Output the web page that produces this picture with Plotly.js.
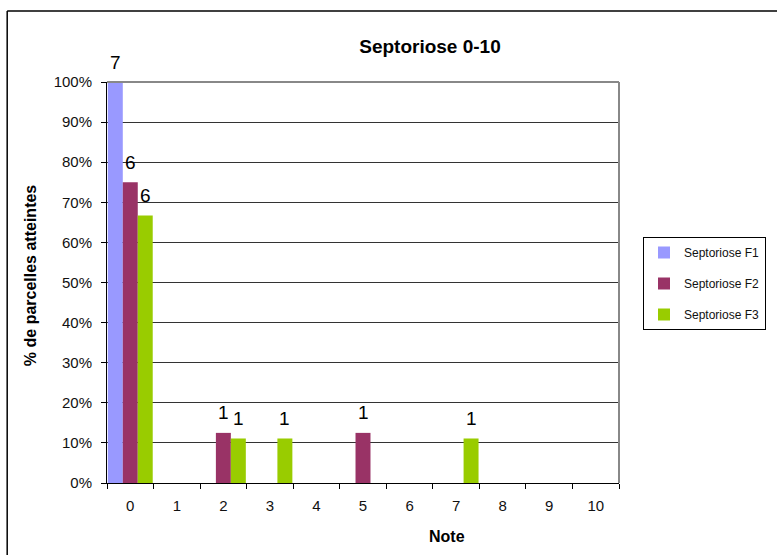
<!DOCTYPE html>
<html>
<head>
<meta charset="utf-8">
<script src="https://cdn.plot.ly/plotly-3.0.1.min.js"></script>
<style>html,body{margin:0;padding:0;background:#fff;}#chart{width:777px;height:555px;}</style>
</head>
<body>
<div id="chart"></div>
<script>
var categories = ["0","1","2","3","4","5","6","7","8","9","10"];
var seriesNames = ["Septoriose F1","Septoriose F2","Septoriose F3"];
var colors = ["#9999FF","#993366","#99CC00"];
var pctF1 = [1.00,0,0,0,0,0,0,0,0,0,0];
var pctF2 = [0.75,0,0.125,0,0,0.125,0,0,0,0,0];
var pctF3 = [0.667,0,0.111,0.111,0,0,0,0.111,0,0,0];
var countF1 = [7,0,0,0,0,0,0,0,0,0,0];
var countF2 = [6,0,1,0,0,1,0,0,0,0,0];
var countF3 = [6,0,1,1,0,0,0,1,0,0,0];

var pcts = [pctF1,pctF2,pctF3];
var counts = [countF1,countF2,countF3];
var bargap = 0.035;
var bw = (1-bargap)/3;
var FONT = 'Liberation Sans, Arial, sans-serif';

var traces = [];
var annotations = [];
for (var s=0; s<3; s++){
  traces.push({
    type:'bar', name: seriesNames[s], x: categories, y: pcts[s],
    marker:{color: colors[s], line:{width:0}},
    legendgroup: 'g'+s, hoverinfo:'none'
  });
  for (var i=0;i<categories.length;i++){
    if (counts[s][i] > 0){
      annotations.push({
        xref:'x', yref:'y', x: i + (s-1)*bw, y: pcts[s][i],
        text: String(counts[s][i]), showarrow:false,
        yanchor:'middle', yshift: 20,
        font:{family:FONT, size:19, color:'#000'}
      });
    }
  }
}
annotations.push({xref:'paper', yref:'paper', x:(448-107)/513, y:(483-536)/401, text:'<b>Note</b>', showarrow:false, xanchor:'center', yanchor:'middle', font:{family:FONT, size:16, color:'#000'}});
annotations.push({xref:'paper', yref:'paper', x:(30-107)/513, y:(483-275)/401, text:'<b>% de parcelles atteintes</b>', textangle:-90, showarrow:false, xanchor:'center', yanchor:'middle', font:{family:FONT, size:16, color:'#000'}});

var layout = {
  width:777, height:555,
  margin:{l:107, r:157, t:82, b:72},
  paper_bgcolor:'#fff', plot_bgcolor:'#fff',
  font:{family:FONT, color:'#000'},
  title:{text:'<b>Septoriose 0-10</b>', xref:'container', yref:'container', x:430/777, y:1-46/555, xanchor:'center', yanchor:'middle', font:{size:19, color:'#000'}},
  barmode:'group', bargap:bargap, bargroupgap:0,
  xaxis:{type:'category', tickson:'boundaries', ticks:'outside', ticklen:5, tickcolor:'#000', showline:true, linecolor:'#000', linewidth:1, showgrid:false, tickfont:{size:15, color:'#111'}, ticklabelstandoff:9, zeroline:false, fixedrange:true},
  yaxis:{range:[0,1], dtick:0.1, tickformat:'.0%', ticks:'outside', ticklen:5, tickcolor:'#000', showline:true, linecolor:'#000', linewidth:1, showgrid:true, gridcolor:'#333', gridwidth:1, tickfont:{size:15, color:'#111'}, ticklabelstandoff:6, zeroline:false, fixedrange:true},
  legend:{x:(643-107)/513, y:(483-237)/401, xanchor:'left', yanchor:'top', bgcolor:'#fff', bordercolor:'#000', borderwidth:1, font:{size:12, color:'#111'}, traceorder:'grouped', tracegroupgap:12},
  annotations: annotations,
  shapes:[
    {type:'line', xref:'paper', yref:'paper', x0:0, x1:1, y0:1, y1:1, line:{color:'#888', width:2}},
    {type:'line', xref:'paper', yref:'paper', x0:1, x1:1, y0:0, y1:1, line:{color:'#888', width:2}},
    {type:'line', xref:'paper', yref:'paper', x0:(7-107)/513, x1:(7-107)/513, y0:(483-560)/401, y1:(483-11)/401, line:{color:'#000', width:1.5}},
    {type:'line', xref:'paper', yref:'paper', x0:(7-107)/513, x1:(780-107)/513, y0:(483-11)/401, y1:(483-11)/401, line:{color:'#000', width:1.5}}
  ]
};
Plotly.newPlot('chart', traces, layout, {displayModeBar:false, staticPlot:true});
</script>
</body>
</html>
